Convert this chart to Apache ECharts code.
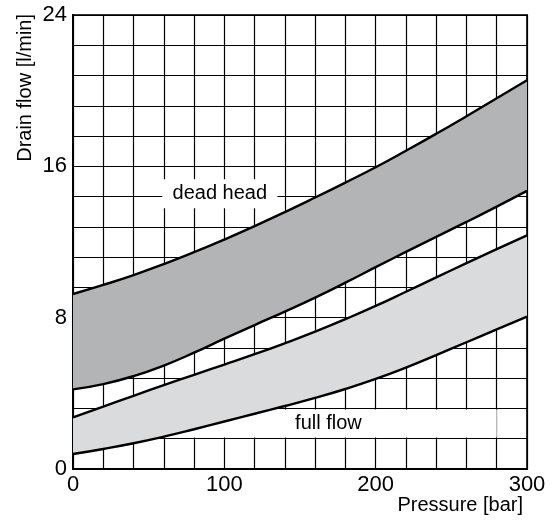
<!DOCTYPE html>
<html>
<head>
<meta charset="utf-8">
<script src="https://cdn.jsdelivr.net/npm/echarts@6/dist/echarts.min.js"></script>
<style>
html,body{margin:0;padding:0;background:#fff;}
#chart{width:552px;height:521px;}
</style>
</head>
<body>
<div id="chart"></div>
<script>
// ---- data ----
var pressure       = [0, 20, 40, 60, 80, 100, 120, 140, 160, 180, 200, 220, 240, 260, 280, 300];
var deadHeadUpper  = [9.25, 9.73, 10.25, 10.83, 11.46, 12.13, 12.84, 13.58, 14.35, 15.14, 15.95, 16.82, 17.72, 18.65, 19.6, 20.55];
var deadHeadLower  = [4.21, 4.49, 4.91, 5.47, 6.15, 6.89, 7.61, 8.32, 9.06, 9.85, 10.67, 11.48, 12.27, 13.06, 13.87, 14.7];
var fullFlowUpper  = [2.73, 3.3, 3.87, 4.43, 4.98, 5.52, 6.07, 6.65, 7.26, 7.92, 8.62, 9.37, 10.13, 10.88, 11.62, 12.35];
var fullFlowLower  = [0.79, 1.06, 1.36, 1.71, 2.1, 2.51, 2.92, 3.33, 3.76, 4.23, 4.76, 5.36, 6.02, 6.7, 7.38, 8.05];
var xTickLabels    = [0, 100, 200, 300];
var yTickLabels    = [0, 8, 16, 24];
var bandLabels     = ['dead head', 'full flow'];
var xAxisTitle     = 'Pressure [bar]';
var yAxisTitle     = 'Drain flow [l/min]';

var FONT = "'Liberation Sans', Arial, Helvetica, sans-serif";

function diff(a, b) { return a.map(function (v, i) { return +(v - b[i]).toFixed(4); }); }
function inList(v, list) { return list.some(function (t) { return Math.abs(t - v) < 1e-6; }); }

var lineStyle = { color: '#000', width: 2.4 };

var chart = echarts.init(document.getElementById('chart'), null, { renderer: 'canvas' });
chart.setOption({
  animation: false,
  backgroundColor: '#fff',
  grid: {
    left: 73, top: 15, width: 454, height: 454, containLabel: false, outerBoundsMode: 'none',
    show: true, borderColor: '#333', borderWidth: 2, backgroundColor: 'transparent'
  },
  xAxis: [{
    type: 'category', boundaryGap: false,
    data: pressure.map(String),
    axisLine: { show: true, onZero: false, lineStyle: { color: '#000', width: 2 } },
    axisTick: { show: false },
    splitLine: { show: true, interval: 0, lineStyle: { color: '#000', width: 1.2 } },
    axisLabel: {
      interval: 0, margin: 5, color: '#000', fontSize: 22, fontFamily: FONT,
      formatter: function (v) { return inList(+v, xTickLabels) ? String(v) : ''; }
    }
  }, {
    type: 'value', min: pressure[0], max: pressure[pressure.length - 1], show: false
  }],
  yAxis: {
    type: 'value', min: 0, max: 24, interval: 1.6,
    axisLine: { show: true, onZero: false, lineStyle: { color: '#000', width: 2 } },
    axisTick: { show: false },
    splitLine: { show: true, lineStyle: { color: '#000', width: 1.2 } },
    axisLabel: {
      margin: 6, color: '#000', fontSize: 22, fontFamily: FONT,
      formatter: function (v) { return inList(v, yTickLabels) ? String(Math.round(v)) : ''; }
    }
  },
  graphic: [{
    type: 'text', x: 25, y: 14, rotation: Math.PI / 2,
    style: { text: yAxisTitle, fill: '#000', font: '20px ' + FONT, align: 'right', verticalAlign: 'middle' }
  }, {
    type: 'text', x: 523, y: 505,
    style: { text: xAxisTitle, fill: '#000', font: '20px ' + FONT, align: 'right', verticalAlign: 'middle' }
  }],
  series: [
    {
      type: 'line', name: 'label boxes', xAxisIndex: 1, data: [], z: 1,
      markArea: {
        silent: true,
        itemStyle: { color: '#fff', borderWidth: 0 },
        label: { show: true, position: 'inside', color: '#000', fontSize: 20, fontFamily: FONT },
        data: [
          [{ name: bandLabels[0], coord: [59, 13.78] }, { coord: [135, 15.32] }],
          [{ name: bandLabels[1], coord: [57.6, 1.66] }, { coord: [280, 3.14] }]
        ]
      }
    },
    {
      type: 'line', name: 'dead head lower', stack: 'dh', z: 3, smooth: 0.5,
      showSymbol: false, lineStyle: lineStyle,
      data: deadHeadLower
    },
    {
      type: 'line', name: 'dead head upper', stack: 'dh', z: 3, smooth: 0.5,
      showSymbol: false, lineStyle: lineStyle,
      areaStyle: { color: '#b3b4b6', opacity: 1 },
      data: diff(deadHeadUpper, deadHeadLower)
    },
    {
      type: 'line', name: 'full flow lower', stack: 'ff', z: 3, smooth: 0.5,
      showSymbol: false, lineStyle: lineStyle,
      data: fullFlowLower
    },
    {
      type: 'line', name: 'full flow upper', stack: 'ff', z: 3, smooth: 0.5,
      showSymbol: false, lineStyle: lineStyle,
      areaStyle: { color: '#dadbdd', opacity: 1 },
      data: diff(fullFlowUpper, fullFlowLower)
    }
  ]
});
</script>
</body>
</html>
